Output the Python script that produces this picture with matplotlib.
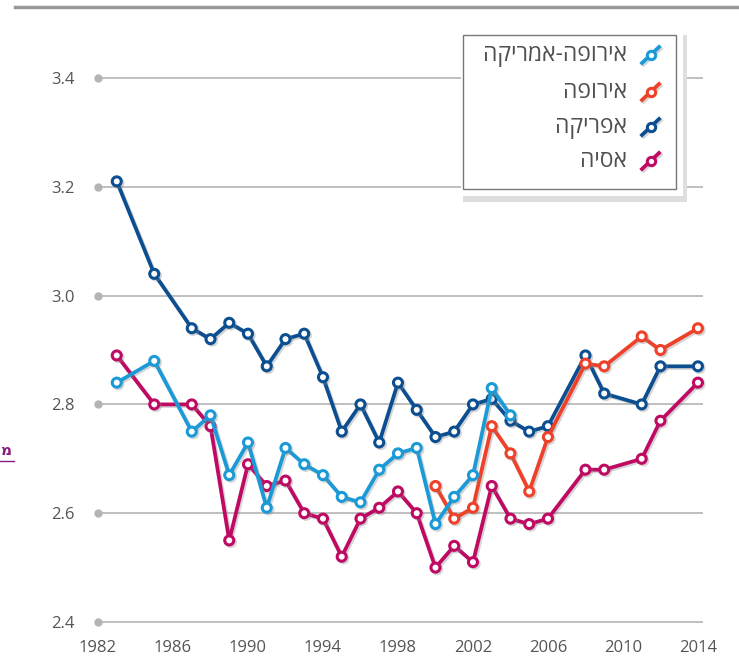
import matplotlib.pyplot as plt
import matplotlib.patheffects as pe
from matplotlib.lines import Line2D
from matplotlib.patches import Rectangle

# data
years_long = [1983, 1985, 1987, 1988, 1989, 1990, 1991, 1992, 1993, 1994,
              1995, 1996, 1997, 1998, 1999, 2000, 2001, 2002, 2003, 2004,
              2005, 2006, 2008, 2009, 2011, 2012, 2014]
years_euam = years_long[:20]
years_europe = [2000, 2001, 2002, 2003, 2004, 2005, 2006, 2008, 2009, 2011, 2012, 2014]

euro_america = [2.84, 2.88, 2.75, 2.78, 2.67, 2.73, 2.61, 2.72, 2.69, 2.67,
                2.63, 2.62, 2.68, 2.71, 2.72, 2.58, 2.63, 2.67, 2.83, 2.78]
europe = [2.65, 2.59, 2.61, 2.76, 2.71, 2.64, 2.74, 2.875, 2.87, 2.925, 2.90, 2.94]
africa = [3.21, 3.04, 2.94, 2.92, 2.95, 2.93, 2.87, 2.92, 2.93, 2.85,
          2.75, 2.80, 2.73, 2.84, 2.79, 2.74, 2.75, 2.80, 2.81, 2.77,
          2.75, 2.76, 2.89, 2.82, 2.80, 2.87, 2.87]
asia = [2.89, 2.80, 2.80, 2.76, 2.55, 2.69, 2.65, 2.66, 2.60, 2.59,
        2.52, 2.59, 2.61, 2.64, 2.60, 2.50, 2.54, 2.51, 2.65, 2.59,
        2.58, 2.59, 2.68, 2.68, 2.70, 2.77, 2.84]

labels = ["אירופה-אמריקה", "אירופה", "אפריקה", "אסיה"]
colors = ["#1a9ad6", "#ef4129", "#0b4f91", "#bf0a63"]

x_ticks = [1982, 1986, 1990, 1994, 1998, 2002, 2006, 2010, 2014]
y_ticks = [2.4, 2.6, 2.8, 3.0, 3.2, 3.4]

W, H = 739, 656
plt.rcParams["font.family"] = ["Open Sans", "DejaVu Sans"]

fig = plt.figure(figsize=(W / 100, H / 100), dpi=100)


def fx(x):
    return x / W


def fy(y):
    return 1 - y / H


# axes placed so that 1982 -> x=98px, 3.4 -> y=78px, 2.4 -> y=622px
x0, x1 = 1982, 2014.27
y0, y1 = 2.38, 3.52
ppu = 544.0
ax = fig.add_axes([fx(98), fy(622 + (2.4 - y0) * ppu),
                   fx(703) - fx(98), ((y1 - y0) * ppu) / H])
ax.set_xlim(x0, x1)
ax.set_ylim(y0, y1)

for s in ax.spines.values():
    s.set_visible(False)

for yv in y_ticks:
    ax.axhline(yv, color="#b4b4b4", lw=1.2, zorder=1)
ax.plot([1982] * len(y_ticks), y_ticks, "o", color="#b4b4b4", ms=5,
        clip_on=False, zorder=2)

ax.set_xticks(x_ticks)
ax.set_yticks(y_ticks)
ax.set_yticklabels([f"{v:.1f}" for v in y_ticks])
ax.tick_params(axis="both", length=0, labelsize=12, labelcolor="#555555")
ax.tick_params(axis="y", pad=17)
ax.tick_params(axis="x", pad=5)

shadow = [pe.SimpleLineShadow(offset=(1.2, -1.2), shadow_color="#888888", alpha=0.35),
          pe.Normal()]

series = [(years_euam, euro_america), (years_europe, europe),
          (years_long, africa), (years_long, asia)]
order = [3, 2, 1, 0]
for i in order:
    xs, ys = series[i]
    ax.plot(xs, ys, color=colors[i], lw=2.7, marker="o", ms=6.5,
            mfc="white", mec=colors[i], mew=2.2, zorder=5 + (3 - i),
            path_effects=shadow, clip_on=False)

# top rule
fig.add_artist(Line2D([fx(15), fx(737)], [fy(7), fy(7)], color="#999999",
                      lw=2.5, transform=fig.transFigure))

# legend box with shadow
fig.add_artist(Rectangle((fx(463), fy(202)), fx(687) - fx(463), fy(35) - fy(202),
                         transform=fig.transFigure, facecolor="#dedede",
                         edgecolor="none", zorder=20))
fig.add_artist(Rectangle((fx(461), fy(196)), fx(683) - fx(461), fy(33) - fy(196),
                         transform=fig.transFigure, facecolor="white",
                         edgecolor="none", zorder=21))
fig.add_artist(Rectangle((fx(463), fy(189)), fx(676) - fx(463), fy(35) - fy(189),
                         transform=fig.transFigure, facecolor="white",
                         edgecolor="#777777", lw=1, zorder=22))

rows = [55, 92, 127, 161]
for lab, col, ry in zip(labels, colors, rows):
    fig.text(fx(627), fy(ry), lab[::-1], ha="right", va="center",
             fontsize=16.5, color="#505050", zorder=23)
    fig.add_artist(Line2D([fx(642), fx(659)], [fy(ry + 8), fy(ry - 8)],
                          color=col, lw=2.7, transform=fig.transFigure,
                          zorder=23, path_effects=shadow))
    fig.add_artist(Line2D([fx(650.5)], [fy(ry)], marker="o", ms=6,
                          mfc="white", mec=col, mew=2.2,
                          transform=fig.transFigure, zorder=24))

# underlined label at the left edge
fig.text(fx(0.5), fy(451), "מ", ha="left", va="center", fontsize=11,
         color="#8b1c7e", fontweight="bold")
fig.add_artist(Line2D([fx(0), fx(14)], [fy(461), fy(461)], color="#8b1c7e",
                      lw=1, transform=fig.transFigure))

fig.savefig("out.png", dpi=100)
